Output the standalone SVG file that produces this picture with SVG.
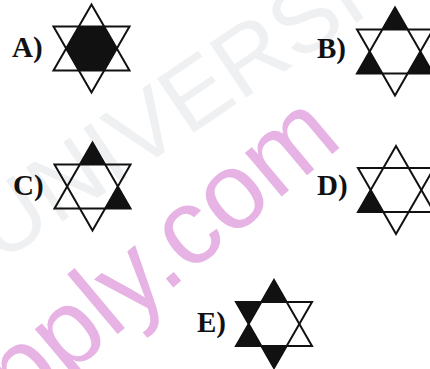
<svg xmlns="http://www.w3.org/2000/svg" xmlns:xlink="http://www.w3.org/1999/xlink" width="430" height="369" viewBox="0 0 430 369">
  <style>
    .bg { fill: #ffffff; }
    .wm-gray { fill: #eef0f2; font-family: "Liberation Sans", Arial, sans-serif; font-size: 95px; }
    .wm-pink { fill: #e6b3e4; font-family: "Liberation Sans", Arial, sans-serif; font-size: 108px; }
    .label { fill: #111111; font-family: "Liberation Serif", "Times New Roman", serif; font-weight: bold; font-size: 29px; }
    .tri { fill: none; stroke: #111111; stroke-width: 2; stroke-linejoin: miter; stroke-miterlimit: 10; }
    .fill { fill: #111111; stroke: #111111; stroke-width: 1; stroke-linejoin: miter; }
  </style>
  <defs>
    <g id="outline">
      <polygon class="tri" points="0,-44 -38,22 38,22"/>
      <polygon class="tri" points="0,44 -38,-22 38,-22"/>
    </g>
    <polygon id="tipT" class="fill" points="0,-44 -12.67,-22 12.67,-22"/>
    <polygon id="tipB" class="fill" points="0,44 -12.67,22 12.67,22"/>
    <polygon id="tipUL" class="fill" points="-38,-22 -12.67,-22 -25.33,0"/>
    <polygon id="tipUR" class="fill" points="38,-22 12.67,-22 25.33,0"/>
    <polygon id="tipLL" class="fill" points="-38,22 -12.67,22 -25.33,0"/>
    <polygon id="tipLR" class="fill" points="38,22 12.67,22 25.33,0"/>
    <polygon id="hex" class="fill" points="-12.67,-22 12.67,-22 25.33,0 12.67,22 -12.67,22 -25.33,0"/>
  </defs>

  <rect class="bg" x="0" y="0" width="430" height="369"/>

  <g id="watermarks">
    <text class="wm-gray" transform="translate(-1,264) rotate(-34)">UNIVERSITY</text>
    <text class="wm-pink" transform="translate(20,416) rotate(-40)">pply.com</text>
  </g>

  <g id="connectors"></g>

  <g id="optionA">
    <text class="label" x="12" y="57">A)</text>
    <g transform="translate(91.5,48.5)">
      <use xlink:href="#hex" href="#hex"/>
      <use xlink:href="#outline" href="#outline"/>
    </g>
  </g>

  <g id="optionB">
    <text class="label" x="317" y="58">B)</text>
    <g transform="translate(395,51.5)">
      <use xlink:href="#tipT" href="#tipT"/>
      <use xlink:href="#tipLL" href="#tipLL"/>
      <use xlink:href="#tipLR" href="#tipLR"/>
      <use xlink:href="#outline" href="#outline"/>
    </g>
  </g>

  <g id="optionC">
    <text class="label" x="13" y="195">C)</text>
    <g transform="translate(92.5,186.5)">
      <use xlink:href="#tipT" href="#tipT"/>
      <use xlink:href="#tipLR" href="#tipLR"/>
      <use xlink:href="#outline" href="#outline"/>
    </g>
  </g>

  <g id="optionD">
    <text class="label" x="317" y="195">D)</text>
    <g transform="translate(396,190)">
      <use xlink:href="#tipLL" href="#tipLL"/>
      <use xlink:href="#outline" href="#outline"/>
    </g>
  </g>

  <g id="optionE">
    <text class="label" x="197" y="332">E)</text>
    <g transform="translate(274,324)">
      <use xlink:href="#tipT" href="#tipT"/>
      <use xlink:href="#tipUL" href="#tipUL"/>
      <use xlink:href="#tipLL" href="#tipLL"/>
      <use xlink:href="#tipB" href="#tipB"/>
      <use xlink:href="#outline" href="#outline"/>
    </g>
  </g>
</svg>
